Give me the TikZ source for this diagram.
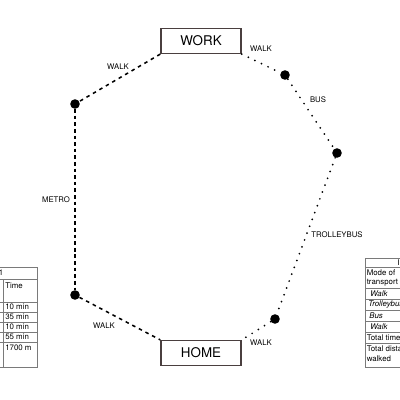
\documentclass[tikz,border=0pt]{standalone}
\usepackage{fontspec}
\setmainfont{TeX Gyre Heros}
\usepackage{xcolor}
\usetikzlibrary{positioning,arrows.meta}
\definecolor{boxline}{HTML}{4A3F3F}
\definecolor{tabline}{HTML}{7A7A7A}

\begin{document}
\begin{tikzpicture}[x=0.025cm,y=-0.025cm,
  place/.style={draw=boxline,line width=1pt,minimum width=2cm,minimum height=0.62cm,
    inner sep=0pt,font=\fontsize{9.5}{11}\selectfont},
  stop/.style={circle,fill=black,minimum size=0.24cm,inner sep=0pt},
  walkline/.style={line width=1.1pt,dash pattern=on 2.5pt off 2.8pt},
  metroline/.style={line width=1.1pt,dash pattern=on 2.6pt off 2.1pt},
  dotline/.style={line width=1.4pt,line cap=round,dash pattern=on 0pt off 5.2pt},
  lbl/.style={font=\fontsize{5.5}{6.5}\selectfont,inner sep=0pt},
  tab/.style={draw=tabline,line width=0.5pt},
  tcell/.style={anchor=west,inner sep=0pt,font=\fontsize{5.6}{6.5}\selectfont}]

  \useasboundingbox (0,0) rectangle (400,400);
  \clip (0,0) rectangle (400,400);

  % --- places and stops ---
  \node[place] (work) at (201,41) {WORK};
  \node[place] (home) at (201,353) {HOME};
  \node[stop] (s1) at (75,104) {};
  \node[stop] (s2) at (285,75) {};
  \node[stop] (s3) at (337,153) {};
  \node[stop] (s4) at (275,319) {};
  \node[stop] (s5) at (75,295) {};

  % --- route 1 (left) ---
  \draw[walkline] (work.south west) -- (s1);
  \draw[metroline] (s1) -- (s5);
  \draw[walkline] (s5) -- (home.north west);

  % --- route 2 (right) ---
  \draw[dotline] (work.south east) -- (s2);
  \draw[dotline] (s2) -- (s3);
  \draw[dotline] (s3) -- (s4);
  \draw[dotline] (s4) -- (home.north east);

  % labels
  \node[lbl] at (118,67) {WALK};
  \node[lbl] at (261,49) {WALK};
  \node[lbl] at (318,100) {BUS};
  \node[lbl] at (56,200) {METRO};
  \node[lbl] at (337,235) {TROLLEYBUS};
  \node[lbl] at (104,326) {WALK};
  \node[lbl] at (261,343) {WALK};

  % --- table, route 1 ---
  \draw[tab] (-60,267) rectangle (37,367);
  \foreach \y in {279,302,312,322,332,342}
    \draw[tab] (-60,\y) -- (37,\y);
  \draw[tab] (3.5,279) -- (3.5,367);
  \node[tcell,anchor=center] at (1,273) {1};
  \node[tcell] at (5,286) {Time};
  \node[tcell] at (5,307) {10 min};
  \node[tcell] at (5,317) {35 min};
  \node[tcell] at (5,327) {10 min};
  \node[tcell] at (5,337) {55 min};
  \node[tcell] at (5,347.5) {1700 m};

  % --- table, route 2 ---
  \draw[tab] (365,258) rectangle (460,367);
  \foreach \y in {267,288,299,310,321,332,343}
    \draw[tab] (365,\y) -- (460,\y);
  \node[tcell] at (397,262.5) {I};
  \node[tcell] at (366.5,272.5) {Mode of};
  \node[tcell] at (366.5,282.5) {transport};
  \node[tcell] at (370,293.5) {\itshape Walk};
  \node[tcell] at (368,304.5) {\itshape Trolleybus};
  \node[tcell] at (369,315.5) {\itshape Bus};
  \node[tcell] at (370,326.5) {\itshape Walk};
  \node[tcell] at (366.5,337.5) {Total time};
  \node[tcell] at (366.5,348.5) {Total distance};
  \node[tcell] at (366.5,358.5) {walked};
\end{tikzpicture}
\end{document}
